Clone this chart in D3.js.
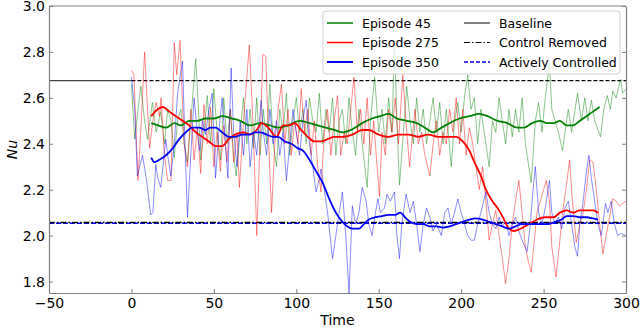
<!DOCTYPE html>
<html>
<head>
<meta charset="utf-8">
<script src="https://cdn.jsdelivr.net/npm/d3@7"></script>
<style>
  body { margin: 0; background: #fff; }
  svg { display: block; font-family: "DejaVu Sans", sans-serif; }
</style>
</head>
<body>
<svg id="chart" width="640" height="327"></svg>
<script>
// reference levels
const baselineNu = 2.675;
const controlledNu = 2.057;
const baselineEnd = 0;

const xTicks = [-50, 0, 50, 100, 150, 200, 250, 300];
const yTicks = [1.8, 2.0, 2.2, 2.4, 2.6, 2.8, 3.0];

const legendLabels = ["Episode 45", "Episode 275", "Episode 350", "Baseline", "Control Removed", "Actively Controlled"];

// raw Nu traces [time, Nu]
const ep45Raw = [[0,2.66],[2,2.42],[4,2.55],[5.7,2.65],[8,2.5],[9.7,2.42],[12.7,2.58],[15,2.45],[17.8,2.54],[20,2.4],[22,2.55],[24,2.5],[26,2.34],[28,2.5],[30,2.55],[32,2.4],[34,2.32],[36,2.5],[39,2.77],[41,2.5],[42,2.33],[44,2.45],[46,2.61],[48,2.4],[50,2.64],[52,2.45],[54,2.33],[56,2.6],[58,2.4],[60,2.55],[62,2.35],[63.5,2.26],[66,2.45],[68,2.6],[70,2.4],[72,2.55],[74,2.38],[76,2.6],[78,2.35],[80,2.55],[82,2.4],[84,2.66],[86,2.4],[88,2.3],[90,2.55],[92,2.45],[94,2.62],[96,2.35],[98,2.5],[100,2.6],[102,2.45],[104,2.55],[106,2.4],[108,2.6],[110,2.5],[112,2.45],[114,2.62],[116,2.4],[118,2.55],[120,2.45],[122,2.6],[124,2.35],[126,2.5],[128,2.55],[130,2.4],[132,2.6],[134,2.45],[136,2.35],[138,2.55],[140,2.4],[143,2.21],[145,2.5],[147.5,2.69],[150,2.45],[152,2.55],[154,2.4],[156,2.6],[158,2.45],[159.6,2.85],[161,2.5],[162.6,2.22],[165,2.45],[167,2.65],[169,2.5],[171,2.4],[173,2.6],[175,2.45],[177,2.55],[179,2.4],[181,2.5],[183,2.6],[185,2.45],[187,2.58],[189,2.4],[191,2.55],[194,2.3],[196,2.5],[198,2.58],[200,2.45],[202,2.6],[204,2.7],[206,2.55],[208,2.6],[210,2.4],[212,2.55],[214,2.45],[217,2.3],[219,2.5],[221,2.45],[223,2.6],[225,2.5],[227,2.4],[229,2.55],[231,2.43],[233,2.55],[235,2.45],[237,2.6],[239,2.4],[242.5,2.23],[245,2.5],[247,2.58],[249,2.45],[251,2.6],[253.6,2.75],[255,2.55],[257,2.5],[259,2.45],[261.5,2.37],[263,2.45],[265,2.55],[267,2.45],[270.6,2.62],[273,2.5],[275,2.6],[277,2.5],[279,2.59],[281,2.5],[284.6,2.43],[286.5,2.55],[288.7,2.61],[290.5,2.55],[292,2.63],[294,2.6],[296.7,2.68],[298,2.62],[300,2.64]];

const ep275Raw = [[0,2.72],[1.5,2.7],[4,2.24],[6,2.5],[8,2.8],[11,2.38],[13,2.5],[15,2.58],[17,2.52],[18,2.6],[20,2.35],[22,2.24],[24,2.24],[26,2.84],[27.5,2.7],[29.5,2.85],[32,2.4],[34,2.3],[36,2.55],[38,2.33],[40,2.47],[42,2.27],[44,2.57],[46,2.4],[48,2.56],[50,2.3],[52,2.45],[54,2.28],[56,2.48],[58,2.32],[60,2.55],[62,2.32],[64,2.45],[65.5,2.21],[68,2.5],[71.5,2.83],[74,2.45],[76,2.0],[78,2.4],[79.7,2.79],[81.5,2.78],[83,2.45],[85,2.1],[87,2.4],[89,2.55],[91,2.66],[93,2.4],[95,2.55],[97,2.35],[99,2.5],[101,2.4],[103,2.64],[105,2.45],[107,2.55],[109,2.35],[111,2.5],[113,2.3],[115,2.19],[117,2.45],[119,2.55],[121,2.35],[123,2.5],[125,2.61],[127,2.35],[129,2.45],[131,2.4],[133,2.55],[135,2.69],[137,2.45],[139,2.55],[141,2.4],[143,2.6],[145,2.35],[147,2.5],[149,2.3],[150.5,2.17],[152,2.45],[154,2.35],[156,2.55],[158,2.45],[160,2.6],[162,2.4],[164.6,2.7],[166.5,2.5],[168.7,2.3],[170,2.4],[172,2.55],[174,2.4],[176,2.45],[178,2.35],[181,2.26],[183,2.4],[185,2.5],[187,2.35],[189,2.45],[191,2.4],[193,2.55],[195,2.45],[197,2.6],[199,2.4],[201,2.55],[203,2.35],[205,2.47],[207,2.4],[209,2.3],[211,2.2],[213,2.3],[215,2.15],[217,1.98],[219,2.05],[221,2.11],[223,2.0],[225,1.9],[227,1.79],[229,1.9],[231,2.05],[233,2.15],[235,2.24],[237,2.1],[239,1.95],[241,1.88],[242.5,1.84],[244,1.95],[246,2.1],[248,2.15],[250,2.2],[251.6,2.24],[253.6,2.15],[255,1.95],[257.5,1.82],[259.5,1.95],[261.5,2.1],[263.5,2.2],[265.8,2.33],[267.5,2.15],[269.8,1.97],[272,2.05],[274,2.1],[276,2.2],[278,2.33],[280,2.32],[282,2.2],[284,2.05],[286,1.92],[288,2.0],[290,2.08],[292,2.16],[294,2.15],[296,2.13],[298,2.14],[300,2.15]];

const ep350Raw = [[0,2.69],[2,2.55],[3.6,2.26],[5,2.3],[6.7,2.35],[9,2.25],[11.7,2.09],[13,2.1],[14.8,2.31],[16,2.25],[17.8,2.21],[20.8,2.42],[22,2.35],[23.9,2.26],[26,2.4],[28,2.62],[31,2.76],[32.5,2.4],[34,2.08],[36,2.35],[38,2.6],[40,2.45],[41.5,2.37],[43,2.5],[45,2.44],[47,2.55],[49,2.62],[51,2.25],[53,2.45],[55,2.6],[57,2.4],[58.5,2.25],[60.5,2.73],[62,2.45],[64,2.3],[66,2.5],[68,2.35],[70,2.55],[72,2.3],[74,2.45],[76,2.35],[78.7,2.59],[80,2.45],[82,2.35],[84,2.55],[86,2.4],[88,2.5],[90,2.35],[92,2.45],[94,2.24],[96,2.4],[98,2.55],[100,2.45],[102,2.35],[104,2.5],[106,2.59],[108,2.4],[110,2.3],[112,2.19],[114,2.25],[115,2.29],[117,2.2],[119,2.1],[122,1.9],[124,2.0],[126,2.1],[128,2.19],[130,2.0],[132,1.75],[134,2.13],[136,2.05],[138,2.1],[140,2.21],[142.4,2.15],[144,2.05],[146,2.0],[148,2.1],[149.5,2.16],[151,2.1],[153.5,2.12],[155,2.18],[157,2.15],[159.6,2.19],[161,2.0],[162.6,1.9],[164,2.05],[166.6,2.18],[169,2.1],[171,2.15],[173,2.05],[175,1.93],[177,2.05],[179,2.12],[181,2.08],[183,2.02],[185,2.05],[188,2.0],[190,2.1],[192,2.12],[194,2.05],[196,2.1],[198,2.16],[200,2.1],[202,2.05],[204,2.0],[206,1.98],[208,1.98],[210,2.05],[212,2.1],[215,2.19],[217,2.1],[219,2.05],[221,2.03],[223,2.08],[225,2.04],[227,2.06],[229,2.0],[231,2.05],[233,2.08],[235,2.02],[237,1.98],[240,1.93],[242,2.05],[243.5,2.19],[245,2.3],[247,2.1],[249,2.05],[251,2.12],[253.6,2.24],[255,2.1],[257,2.05],[259,2.08],[261,2.03],[263,2.12],[265,2.15],[267,2.05],[269,1.95],[270.6,1.91],[272,2.05],[274,2.15],[276,2.28],[277.5,2.35],[279,2.25],[281,2.15],[283,2.05],[285,2.0],[287.6,2.14],[289,2.1],[291,2.15],[293,2.05],[295,2.0],[297,2.01],[300,2.0]];

// smoothed traces
const ep45Smooth = [[12,2.49],[16,2.48],[21,2.47],[26,2.49],[30,2.48],[35,2.5],[40,2.5],[45,2.51],[50,2.51],[55,2.52],[61,2.51],[66,2.5],[72,2.48],[78,2.49],[84,2.48],[89,2.47],[95,2.48],[102,2.5],[108,2.49],[113,2.48],[118,2.47],[123,2.46],[128,2.45],[133,2.46],[140,2.49],[146,2.51],[151,2.52],[156,2.53],[161,2.51],[167,2.5],[173,2.49],[178,2.47],[183,2.45],[188,2.47],[193,2.49],[199,2.51],[205,2.52],[211,2.53],[216,2.52],[222,2.5],[228,2.49],[234,2.47],[238,2.47],[243,2.49],[248,2.5],[252,2.49],[256,2.49],[260,2.5],[264,2.48],[268,2.48],[272,2.5],[276,2.52],[280,2.54],[284,2.56]];

const ep275Smooth = [[12,2.52],[16,2.55],[19,2.56],[23,2.54],[27,2.52],[31,2.5],[35,2.48],[39,2.45],[43,2.43],[47,2.41],[51,2.39],[55,2.39],[59,2.42],[63,2.44],[68,2.45],[72,2.44],[76,2.46],[79,2.49],[83,2.47],[88,2.43],[92,2.48],[96,2.48],[99,2.49],[103,2.46],[107,2.43],[111,2.41],[115,2.41],[119,2.42],[123,2.43],[128,2.43],[134,2.44],[140,2.46],[144,2.46],[150,2.44],[156,2.43],[162,2.44],[168,2.44],[174,2.43],[180,2.44],[186,2.43],[192,2.43],[197,2.43],[201,2.41],[205,2.37],[208,2.32],[212,2.26],[215,2.2],[219,2.15],[223,2.11],[226,2.07],[229,2.03],[232,2.02],[236,2.03],[241,2.05],[246,2.07],[251,2.08],[256,2.08],[260,2.1],[264,2.11],[268,2.1],[272,2.11],[276,2.11],[280,2.11],[283,2.1]];

const ep350Smooth = [[12,2.34],[14,2.32],[17,2.33],[21,2.35],[25,2.38],[29,2.42],[33,2.45],[37,2.47],[41,2.47],[45,2.46],[48,2.47],[51,2.47],[55,2.45],[59,2.43],[63,2.43],[67,2.44],[71,2.44],[75,2.45],[78,2.45],[82,2.44],[86,2.43],[89,2.43],[93,2.41],[97,2.4],[101,2.38],[104,2.37],[108,2.33],[112,2.28],[116,2.23],[120,2.16],[124,2.1],[128,2.06],[131,2.04],[134,2.03],[138,2.03],[141,2.05],[144,2.07],[148,2.08],[152,2.085],[156,2.09],[160,2.09],[163,2.1],[166,2.08],[169,2.06],[173,2.05],[177,2.05],[181,2.04],[185,2.04],[189,2.035],[193,2.04],[197,2.05],[201,2.06],[205,2.07],[209,2.075],[213,2.07],[217,2.06],[221,2.05],[225,2.04],[229,2.03],[233,2.04],[237,2.05],[241,2.05],[245,2.05],[249,2.05],[253,2.05],[257,2.06],[261,2.07],[264,2.085],[268,2.085],[272,2.08],[276,2.08],[280,2.075],[283,2.07]];

const margin = { top: 6, right: 14, bottom: 34, left: 49 };
const width = 640 - margin.left - margin.right;
const height = 327 - margin.top - margin.bottom;

let svg = d3.select("#chart");
let g = svg.append("g").attr("transform", `translate(${margin.left},${margin.top})`);

let x = d3.scaleLinear().domain([-50, 300]).range([0, width]);
let y = d3.scaleLinear().domain([1.75, 3.0]).range([height, 0]);

svg.append("defs").append("clipPath").attr("id", "plot-clip")
  .append("rect").attr("width", width).attr("height", height);

let line = d3.line().x(d => x(d[0])).y(d => y(d[1]));
let plot = g.append("g").attr("clip-path", "url(#plot-clip)");

// reference lines
plot.append("line")
  .attr("x1", x(-50)).attr("x2", x(baselineEnd))
  .attr("y1", y(baselineNu)).attr("y2", y(baselineNu))
  .attr("stroke", "#444").attr("stroke-width", 1.2);

plot.append("line")
  .attr("x1", x(baselineEnd)).attr("x2", x(300))
  .attr("y1", y(baselineNu)).attr("y2", y(baselineNu))
  .attr("stroke", "black").attr("stroke-width", 1.1)
  .attr("stroke-dasharray", "4,2");

plot.append("line")
  .attr("x1", x(-50)).attr("x2", x(300))
  .attr("y1", y(controlledNu) + 0.8).attr("y2", y(controlledNu) + 0.8)
  .attr("stroke", "blue").attr("stroke-width", 1.5)
  .attr("stroke-dasharray", "5,2");

plot.append("line")
  .attr("x1", x(-50)).attr("x2", x(300))
  .attr("y1", y(controlledNu)).attr("y2", y(controlledNu))
  .attr("stroke", "black").attr("stroke-width", 1.5)
  .attr("stroke-dasharray", "6,2,1.5,2");

// noisy traces
const rawSeries = [[ep45Raw, "green"], [ep275Raw, "red"], [ep350Raw, "blue"]];
rawSeries.forEach(([data, color]) => {
  plot.append("path")
    .datum(data)
    .attr("d", line)
    .attr("fill", "none")
    .attr("stroke", color)
    .attr("stroke-opacity", 0.45)
    .attr("stroke-width", 1);
});

// smoothed traces
const smoothSeries = [[ep45Smooth, "green"], [ep275Smooth, "red"], [ep350Smooth, "blue"]];
smoothSeries.forEach(([data, color]) => {
  plot.append("path")
    .datum(data)
    .attr("d", line.curve(d3.curveMonotoneX))
    .attr("fill", "none")
    .attr("stroke", color)
    .attr("stroke-width", 1.8);
});

// axes, ticks pointing inward
let xAxis = g.append("g")
  .attr("transform", `translate(0,${height})`)
  .call(d3.axisBottom(x).tickValues(xTicks).tickSizeInner(-4).tickSizeOuter(0).tickPadding(5));

let yAxis = g.append("g")
  .call(d3.axisLeft(y).tickValues(yTicks).tickFormat(d3.format(".1f")).tickSizeInner(-4).tickSizeOuter(0).tickPadding(4));

let yAxisRight = g.append("g")
  .attr("transform", `translate(${width},0)`)
  .call(d3.axisRight(y).tickValues(yTicks).tickFormat("").tickSizeInner(-4).tickSizeOuter(0));

g.append("line")
  .attr("x1", 0).attr("x2", width).attr("y1", 0).attr("y2", 0)
  .attr("stroke", "#808080").attr("stroke-width", 1.2);

[xAxis, yAxis, yAxisRight].forEach(a => {
  a.select(".domain").attr("stroke", "#808080").attr("stroke-width", 1.2);
  a.selectAll(".tick line").attr("stroke", "#808080");
  a.selectAll(".tick text").attr("font-size", 14).attr("fill", "black").attr("font-family", "DejaVu Sans");
});

// axis labels
svg.append("text")
  .attr("x", margin.left + width / 2)
  .attr("y", 325)
  .attr("text-anchor", "middle")
  .attr("font-size", 14)
  .text("Time");

svg.append("text")
  .attr("transform", `translate(17,${margin.top + height / 2}) rotate(-90)`)
  .attr("text-anchor", "middle")
  .attr("font-size", 14)
  .attr("font-style", "italic")
  .text("Nu");

// legend
let legend = g.append("g").attr("transform", `translate(${323 - margin.left},${11 - margin.top})`);
legend.append("rect")
  .attr("width", 297).attr("height", 63).attr("rx", 3)
  .attr("fill", "white").attr("fill-opacity", 0.8)
  .attr("stroke", "#d0d0d0").attr("stroke-width", 1);

const legendStyles = [
  { color: "green", dash: null, w: 1.5 },
  { color: "red", dash: null, w: 1.5 },
  { color: "blue", dash: null, w: 2 },
  { color: "#555", dash: null, w: 1.5 },
  { color: "black", dash: "6,2,1.5,2", w: 1.2 },
  { color: "blue", dash: "4,2", w: 1.5 }
];

legendLabels.forEach((label, i) => {
  let col = Math.floor(i / 3), row = i % 3;
  let lx = col === 0 ? 4 : 141;
  let ly = 12 + row * 19.5;
  legend.append("line")
    .attr("x1", lx).attr("x2", lx + 26).attr("y1", ly).attr("y2", ly)
    .attr("stroke", legendStyles[i].color)
    .attr("stroke-width", legendStyles[i].w)
    .attr("stroke-dasharray", legendStyles[i].dash);
  legend.append("text")
    .attr("x", lx + 35).attr("y", ly + 4.5)
    .attr("font-size", 12.5)
    .text(label);
});
</script>
</body>
</html>
